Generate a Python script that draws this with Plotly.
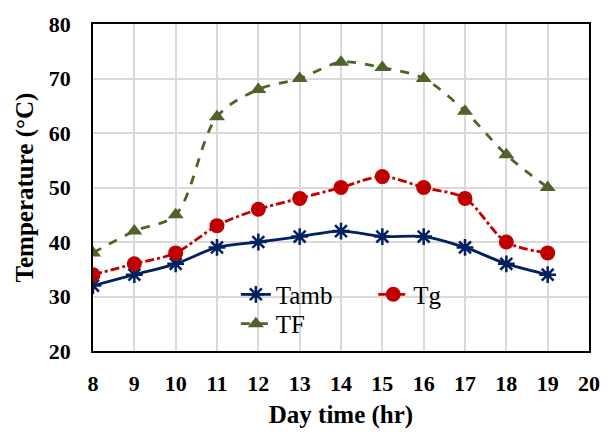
import plotly.graph_objects as go

hours = [8, 9, 10, 11, 12, 13, 14, 15, 16, 17, 18, 19]
tamb = [32, 34, 36, 39, 40, 41, 42, 41, 41, 39, 36, 34]
tg = [34, 36, 38, 43, 46, 48, 50, 52, 50, 48, 40, 38]
tf = [38, 42, 45, 63, 68, 70, 73, 72, 70, 64, 56, 50]
x_ticks = list(range(8, 21))
y_ticks = list(range(20, 81, 10))

FONT = "Liberation Serif"

fig = go.Figure()
fig.add_trace(go.Scatter(
    x=hours, y=tamb, name="Tamb", mode="lines+markers",
    line=dict(color="#002060", width=2.8, shape="spline", smoothing=0.9),
    marker=dict(symbol="asterisk-open", size=14, color="#002060",
                line=dict(color="#002060", width=2.5)),
    legend="legend"))
fig.add_trace(go.Scatter(
    x=hours, y=tg, name="Tg", mode="lines+markers",
    line=dict(color="#C00000", width=2.8, dash="dashdot", shape="spline", smoothing=0.9),
    marker=dict(symbol="circle", size=15, color="#C00000"),
    legend="legend2"))
fig.add_trace(go.Scatter(
    x=hours, y=tf, name="TF", mode="lines+markers",
    line=dict(color="#4F6228", width=2.8, dash="dash", shape="spline", smoothing=0.9),
    marker=dict(symbol="triangle-up", size=14, color="#4F6228"),
    legend="legend3"))

axis_common = dict(
    showline=True, linecolor="black", linewidth=1.5, mirror=True,
    showgrid=True, gridcolor="#D9D9D9", gridwidth=1.5,
    zeroline=False, ticks="",
    tickfont=dict(family=FONT, size=22, color="black", weight="bold"),
)

leg_common = dict(bgcolor="rgba(0,0,0,0)", font=dict(family=FONT, size=25, color="black"),
                  xanchor="left", yanchor="top", orientation="h")

fig.update_layout(
    width=612, height=436,
    margin=dict(l=93, r=12, t=22, b=81),
    paper_bgcolor="white", plot_bgcolor="white",
    xaxis=dict(range=[8, 20], tickvals=x_ticks, ticklabelstandoff=12, **axis_common,
               title=dict(text="Day time (hr)", standoff=10,
                          font=dict(family=FONT, size=25, color="black", weight="bold"))),
    yaxis=dict(range=[20, 80], tickvals=y_ticks, ticklabelstandoff=16, **axis_common,
               title=dict(text="Temperature (°C)", standoff=8,
                          font=dict(family=FONT, size=25, color="black", weight="bold"))),
    legend=dict(x=0.288, y=0.243, **leg_common),
    legend2=dict(x=0.565, y=0.243, **leg_common),
    legend3=dict(x=0.288, y=0.153, **leg_common),
    showlegend=True,
    shapes=[dict(type="rect", xref="paper", yref="paper", layer="between",
                 x0=0.22, x1=0.785, y0=0.045, y1=0.215,
                 fillcolor="white", line=dict(width=0))],
)

fig.write_html("out.html", config={"displayModeBar": False},
               post_script="document.body.style.margin='0';")
